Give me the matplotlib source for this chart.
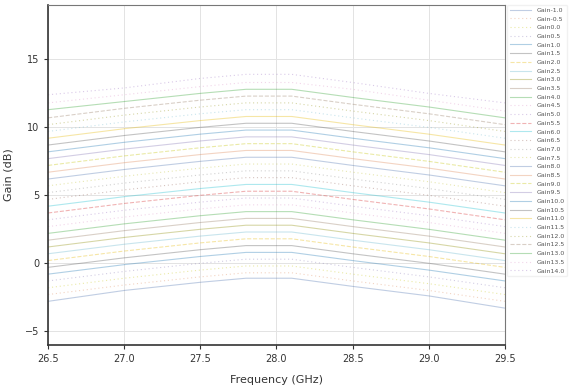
import matplotlib
matplotlib.use("Agg")
import matplotlib.pyplot as plt

# frequency points (GHz)
freq = [26.5, 27.0, 27.5, 27.8, 28.1, 28.5, 29.0, 29.5]

# gain settings shown in legend
gain_set = [-1.0, -0.5, 0.0, 0.5, 1.0, 1.5, 2.0, 2.5, 3.0, 3.5, 4.0, 4.5, 5.0, 5.5,
            6.0, 6.5, 7.0, 7.5, 8.0, 8.5, 9.0, 9.5, 10.0, 10.5, 11.0, 11.5, 12.0,
            12.5, 13.0, 13.5, 14.0]

# measured gain (dB), one list per gain setting
g_m10 = [-2.8, -2.0, -1.4, -1.1, -1.1, -1.7, -2.4, -3.3]
g_m05 = [-2.3, -1.6, -1.0, -0.7, -0.7, -1.3, -2.0, -2.8]
g_00 = [-1.8, -1.1, -0.5, -0.2, -0.2, -0.8, -1.5, -2.3]
g_05 = [-1.3, -0.6, 0.0, 0.3, 0.3, -0.3, -1.0, -1.8]
g_10 = [-0.8, -0.1, 0.5, 0.8, 0.8, 0.2, -0.5, -1.3]
g_15 = [-0.3, 0.4, 1.0, 1.3, 1.3, 0.7, 0.0, -0.8]
g_20 = [0.2, 0.9, 1.5, 1.8, 1.8, 1.2, 0.5, -0.3]
g_25 = [0.7, 1.4, 2.0, 2.3, 2.3, 1.7, 1.0, 0.2]
g_30 = [1.2, 1.9, 2.5, 2.8, 2.8, 2.2, 1.5, 0.7]
g_35 = [1.7, 2.4, 3.0, 3.3, 3.3, 2.7, 2.0, 1.2]
g_40 = [2.2, 2.9, 3.5, 3.8, 3.8, 3.2, 2.5, 1.7]
g_45 = [2.7, 3.4, 4.0, 4.3, 4.3, 3.7, 3.0, 2.2]
g_50 = [3.2, 3.9, 4.5, 4.8, 4.8, 4.2, 3.5, 2.7]
g_55 = [3.7, 4.4, 5.0, 5.3, 5.3, 4.7, 4.0, 3.2]
g_60 = [4.2, 4.9, 5.5, 5.8, 5.8, 5.2, 4.5, 3.7]
g_65 = [4.7, 5.4, 6.0, 6.3, 6.3, 5.7, 5.0, 4.2]
g_70 = [5.2, 5.9, 6.5, 6.8, 6.8, 6.2, 5.5, 4.7]
g_75 = [5.7, 6.4, 7.0, 7.3, 7.3, 6.7, 6.0, 5.2]
g_80 = [6.2, 6.9, 7.5, 7.8, 7.8, 7.2, 6.5, 5.7]
g_85 = [6.7, 7.4, 8.0, 8.3, 8.3, 7.7, 7.0, 6.2]
g_90 = [7.2, 7.9, 8.5, 8.8, 8.8, 8.2, 7.5, 6.7]
g_95 = [7.7, 8.4, 9.0, 9.3, 9.3, 8.7, 8.0, 7.2]
g_100 = [8.2, 8.9, 9.5, 9.8, 9.8, 9.2, 8.5, 7.7]
g_105 = [8.7, 9.4, 10.0, 10.3, 10.3, 9.7, 9.0, 8.2]
g_110 = [9.2, 9.9, 10.5, 10.8, 10.8, 10.2, 9.5, 8.7]
g_115 = [9.7, 10.4, 11.0, 11.3, 11.3, 10.7, 10.0, 9.2]
g_120 = [10.2, 10.9, 11.5, 11.8, 11.8, 11.2, 10.5, 9.7]
g_125 = [10.7, 11.4, 12.0, 12.3, 12.3, 11.7, 11.0, 10.2]
g_130 = [11.3, 11.9, 12.5, 12.8, 12.8, 12.2, 11.5, 10.7]
g_135 = [11.8, 12.4, 13.0, 13.3, 13.3, 12.8, 12.0, 11.2]
g_140 = [12.4, 12.9, 13.6, 13.9, 13.9, 13.3, 12.5, 11.8]

curves = [g_m10, g_m05, g_00, g_05, g_10, g_15, g_20, g_25, g_30, g_35, g_40,
          g_45, g_50, g_55, g_60, g_65, g_70, g_75, g_80, g_85, g_90, g_95,
          g_100, g_105, g_110, g_115, g_120, g_125, g_130, g_135, g_140]

colors = ["#4c72b0", "#dd8452", "#c4c400", "#8172b3", "#1f77b4", "#555555",
          "#e6b800", "#64b5cd", "#8c8c00", "#937860", "#2ca02c", "#da8bc3",
          "#9467bd", "#d62728", "#17becf", "#8c564b", "#7f7f7f", "#bcbd22"]
styles = ["-", ":", ":", ":", "-", "-", "--", "-", "-", "-", "-", ":", ":", "--"]

fig, ax = plt.subplots(figsize=(5.73, 3.87), dpi=100)
fig.subplots_adjust(left=0.084, right=0.881, bottom=0.109, top=0.987)

for i, (g, y) in enumerate(zip(gain_set, curves)):
    ls = styles[i % len(styles)]
    ax.plot(freq, y, color=colors[i % len(colors)],
            ls=(0, (1, 2.5)) if ls == ":" else ls,
            lw=0.8, alpha=0.35, label="Gain%.1f" % g)

ax.set_xlim(26.5, 29.5)
ax.set_ylim(-6, 19)
ax.set_xticks([26.5, 27.0, 27.5, 28.0, 28.5, 29.0, 29.5])
ax.set_yticks([-5, 0, 5, 10, 15])
ax.grid(True, color="#e3e3e3", lw=0.7)
ax.tick_params(labelsize=7, length=3, colors="#333333")
for s in ax.spines.values():
    s.set_color("#777777")
ax.spines["left"].set_linewidth(1.2)
ax.spines["bottom"].set_linewidth(1.2)
ax.spines["left"].set_color("#333333")
ax.spines["bottom"].set_color("#333333")

ax.set_xlabel("Frequency (GHz)", fontsize=8, labelpad=8, color="#333333")
ax.set_ylabel("Gain (dB)", fontsize=8, labelpad=8, color="#333333")

leg = ax.legend(loc="upper left", bbox_to_anchor=(1.005, 1.0), fontsize=4.5,
                frameon=True, handlelength=3.5, labelspacing=0.53,
                borderaxespad=0.0, edgecolor="#eeeeee")
for t in leg.get_texts():
    t.set_color("#555555")

fig.savefig("out.png", dpi=100)
